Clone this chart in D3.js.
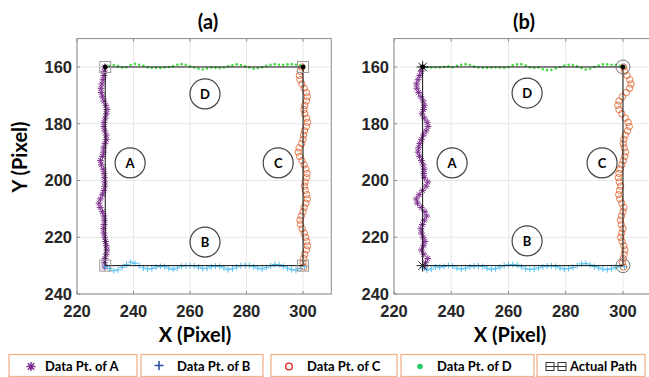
<!DOCTYPE html>
<html>
<head>
<meta charset="utf-8">
<script src="https://cdn.jsdelivr.net/npm/d3@7"></script>
<style>
  body { margin: 0; background: #fff; }
  svg { display: block; }
  .tick-lbl { font-family: "Liberation Sans", Arial, sans-serif; font-weight: bold; font-size: 16.5px; fill: #262626; }
  .big { font-family: Lato, "Open Sans", sans-serif; font-weight: bold; fill: #000; }
</style>
</head>
<body>
<div id="chart"></div>
<script>
// axis ticks
const xTicks = [220, 240, 260, 280, 300];
const yTicks = [160, 180, 200, 220, 240];

// positions along the tracks
const trackY = [160,161.5,163,164.5,166,167.5,169,170.5,172,173.5,175,176.5,178,179.5,181,182.5,184,185.5,187,188.5,190,191.5,193,194.5,196,197.5,199,200.5,202,203.5,205,206.5,208,209.5,211,212.5,214,215.5,217,218.5,220,221.5,223,224.5,226,227.5,229,230.5];
const trackX = [230,231.5,233,234.5,236,237.5,239,240.5,242,243.5,245,246.5,248,249.5,251,252.5,254,255.5,257,258.5,260,261.5,263,264.5,266,267.5,269,270.5,272,273.5,275,276.5,278,279.5,281,282.5,284,285.5,287,288.5,290,291.5,293,294.5,296,297.5,299,300.5];

// panel (a) data points
const aX_A = [229.8,229.6,229.5,229.2,228.8,228.5,228.6,229.0,229.5,230.2,230.6,230.4,230.0,229.6,229.5,229.8,230.3,230.4,229.9,229.5,229.4,229.0,228.3,228.6,229.3,229.6,229.7,229.8,229.8,229.5,229.0,228.3,227.8,228.2,229.0,229.5,229.7,229.6,229.4,229.5,229.8,230.1,230.4,230.6,230.3,229.9,229.7,229.8];
const aY_B = [230.2,231.0,231.8,231.5,230.6,229.6,228.8,229.2,230.0,230.8,231.2,231.0,230.5,230.3,230.4,230.9,231.3,230.8,230.2,230.0,230.0,230.1,230.5,231.0,230.9,230.4,230.2,230.3,230.8,231.4,231.1,230.5,230.0,229.9,230.0,230.4,230.9,231.2,230.7,230.1,229.6,229.7,230.3,230.9,231.4,231.6,231.0,230.3];
const aX_C = [299.6,299.0,298.7,298.9,299.6,300.4,301.2,301.5,301.2,300.6,300.3,300.6,301.3,301.6,301.2,300.5,300.2,300.0,299.5,298.6,298.3,298.8,299.6,300.4,301.0,301.4,301.2,300.7,300.5,300.8,301.3,301.5,301.0,300.4,300.0,299.4,298.9,299.1,299.7,300.4,300.9,301.3,301.6,301.2,300.6,300.2,300.0,300.3];
const aY_D = [160.0,159.6,159.3,159.7,160.2,160.1,159.3,158.9,159.2,159.6,160.1,160.3,160.3,160.4,160.2,160.0,159.7,159.2,159.0,159.2,159.8,160.2,160.6,160.9,160.5,160.2,160.3,160.4,160.2,159.8,159.4,159.1,159.3,159.8,160.2,160.6,160.4,160.1,159.6,159.2,159.0,159.2,159.3,159.1,159.0,159.2,159.5,160.0];

// panel (b) data points
const bX_A = [230.0,229.5,229.0,228.4,227.9,228.0,228.6,229.4,230.2,230.6,230.3,229.8,230.6,231.6,231.9,231.2,230.3,229.6,229.0,228.6,228.4,228.9,229.6,230.2,230.5,230.4,230.6,231.8,231.2,230.0,228.8,227.8,228.2,229.5,230.8,231.4,230.6,229.9,229.4,229.6,230.2,230.8,230.3,229.6,230.4,231.8,231.0,230.6];
const bY_B = [230.6,231.5,231.2,230.4,230.6,230.3,230.0,230.2,230.9,231.2,230.9,230.4,230.2,230.1,230.3,230.9,231.3,231.0,230.5,230.0,229.7,229.6,229.8,230.4,231.1,231.3,231.2,230.8,230.4,230.2,230.1,230.3,230.8,231.2,231.0,230.6,230.0,229.4,229.3,229.8,230.3,230.8,231.2,231.4,231.1,230.6,230.3,230.4];
const bX_C = [300.2,300.6,301.4,302.4,302.8,302.3,301.2,299.8,298.6,298.2,298.6,299.6,300.8,301.8,302.2,301.6,300.8,300.3,300.1,300.4,300.9,300.6,300.1,299.6,299.0,298.6,298.4,298.7,299.2,298.8,298.5,298.9,299.6,300.3,300.0,299.5,299.1,299.4,300.0,299.6,299.2,299.7,300.3,300.7,300.4,300.1,299.8,300.2];
const bY_D = [160.0,160.1,160.2,160.1,160.2,160.0,159.8,160.1,159.6,159.2,159.0,159.3,159.8,160.2,160.3,160.3,160.2,160.1,160.2,160.3,160.0,159.4,159.1,159.0,159.5,160.1,160.3,160.2,160.8,161.1,161.0,160.5,160.0,159.5,159.2,159.3,159.8,160.4,160.9,160.6,160.0,159.5,159.1,159.1,159.2,159.3,159.6,160.0];

// actual path corners
const pathX = [230, 300, 300, 230, 230];
const pathY = [160, 160, 230, 230, 160];

// zone labels
const zoneNames = ["A", "B", "C", "D"];
const aZoneX = [238.8, 265.3, 291.2, 265.3];
const aZoneY = [193.8, 221.7, 193.8, 169.5];
const bZoneX = [240.3, 266.5, 292.7, 266.5];
const bZoneY = [193.8, 221.3, 193.8, 169.2];

const legendLabels = ["Data Pt. of A", "Data Pt. of B", "Data Pt. of C", "Data Pt. of D", "Actual Path"];

const colA = "#7E2F8E", colB = "#4DBEEE", colC = "#D95319", colD = "#44dd44";

const W = 649, H = 377;
const svg = d3.select("#chart").append("svg").attr("width", W).attr("height", H);

function asterisk(r) {
  const d = r * 0.707;
  return `M${-r},0L${r},0M0,${-r}L0,${r}M${-d},${-d}L${d},${d}M${-d},${d}L${d},${-d}`;
}
function plus(r) { return `M${-r},0L${r},0M0,${-r}L0,${r}`; }

function drawPanel(opt) {
  const x = d3.scaleLinear().domain([220, 310]).range(opt.xr);
  const y = d3.scaleLinear().domain([150, 240]).range([38.6, 294]);
  const g = svg.append("g");
  const [x0, x1] = opt.xr;

  // grid
  g.selectAll(".gx").data(xTicks).enter().append("line")
    .attr("x1", d => x(d)).attr("x2", d => x(d)).attr("y1", y(150)).attr("y2", y(240))
    .attr("stroke", "#e8e8e8");
  g.selectAll(".gy").data(yTicks).enter().append("line")
    .attr("x1", x0).attr("x2", x1).attr("y1", d => y(d)).attr("y2", d => y(d))
    .attr("stroke", "#e8e8e8");

  // box
  g.append("rect").attr("x", x0).attr("y", y(150)).attr("width", x1 - x0).attr("height", y(240) - y(150))
    .attr("fill", "none").attr("stroke", "#8c8c8c").attr("stroke-width", 1);

  // tick marks
  g.selectAll(".tx").data(xTicks).enter().append("path")
    .attr("d", d => `M${x(d)},${y(240)}v-3M${x(d)},${y(150)}v3`).attr("stroke", "#8c8c8c");
  g.selectAll(".ty").data(yTicks).enter().append("path")
    .attr("d", d => `M${x0},${y(d)}h3`).attr("stroke", "#8c8c8c");

  // tick labels
  g.selectAll(".lx").data(xTicks).enter().append("text").attr("class", "tick-lbl")
    .attr("x", d => x(d)).attr("y", 317).attr("text-anchor", "middle").text(d => d);
  g.selectAll(".ly").data(yTicks).enter().append("text").attr("class", "tick-lbl")
    .attr("x", x0 - 5).attr("y", d => y(d) + 6).attr("text-anchor", "end").text(d => d);

  // zone circles
  const zones = g.selectAll(".zone").data(zoneNames).enter().append("g")
    .attr("transform", (d, i) => `translate(${x(opt.zx[i])},${y(opt.zy[i])})`);
  zones.append("circle").attr("r", 15).attr("fill", "none").attr("stroke", "#444").attr("stroke-width", 1.2);
  zones.append("text").attr("class", "big").attr("font-size", 13).attr("text-anchor", "middle")
    .attr("dy", 5).text(d => d);

  // data A
  g.selectAll(".pa").data(opt.A).enter().append("path")
    .attr("transform", (d, i) => `translate(${x(d)},${y(trackY[i])})`)
    .attr("d", asterisk(3.4)).attr("stroke", colA).attr("stroke-width", 1).attr("fill", "none");
  // data B
  g.selectAll(".pb").data(opt.B).enter().append("path")
    .attr("transform", (d, i) => `translate(${x(trackX[i])},${y(d)})`)
    .attr("d", plus(3)).attr("stroke", colB).attr("stroke-width", 1).attr("fill", "none");
  // data C
  g.selectAll(".pc").data(opt.C).enter().append("circle")
    .attr("cx", d => x(d)).attr("cy", (d, i) => y(trackY[i])).attr("r", 3.2)
    .attr("stroke", colC).attr("stroke-opacity", 0.75).attr("stroke-width", 1).attr("fill", "none");
  // data D
  g.selectAll(".pd").data(opt.D).enter().append("circle")
    .attr("cx", (d, i) => x(trackX[i])).attr("cy", d => y(d)).attr("r", 1.3)
    .attr("fill", colD);

  // actual path
  const line = d3.line().x(d => x(d[0])).y(d => y(d[1]));
  g.append("path").datum(pathX.map((v, i) => [v, pathY[i]]))
    .attr("d", line).attr("fill", "none").attr("stroke", "#111").attr("stroke-width", 1);

  const corners = pathX.slice(0, 4).map((v, i) => [v, pathY[i]]);
  if (opt.mode === "a") {
    g.selectAll(".sq").data(corners).enter().append("rect")
      .attr("x", d => x(d[0]) - 5.5).attr("y", d => y(d[1]) - 5.5).attr("width", 11).attr("height", 11)
      .attr("fill", "none").attr("stroke", "#999").attr("stroke-width", 1);
  } else {
    g.selectAll(".ci").data(corners.filter(d => d[0] === 300)).enter().append("circle")
      .attr("cx", d => x(d[0])).attr("cy", d => y(d[1])).attr("r", 7)
      .attr("fill", "none").attr("stroke", "#777").attr("stroke-width", 1);
    g.selectAll(".st").data(corners.filter(d => d[0] === 230)).enter().append("path")
      .attr("transform", d => `translate(${x(d[0])},${y(d[1])})`)
      .attr("d", asterisk(6)).attr("stroke", "#222").attr("stroke-width", 1);
  }
  g.selectAll(".bd").data(corners.filter(d => d[1] === 160)).enter().append("circle")
    .attr("cx", d => x(d[0])).attr("cy", d => y(d[1])).attr("r", 2.4).attr("fill", "#000");

  // titles
  g.append("text").attr("class", "big").attr("font-size", 20).attr("text-anchor", "middle")
    .attr("x", opt.tx).attr("y", 29).text(opt.title);
  g.append("text").attr("class", "big").attr("font-size", 20).attr("text-anchor", "middle")
    .attr("x", opt.lx).attr("y", 342).text("X (Pixel)");
}

drawPanel({ xr: [77, 331.3], A: aX_A, B: aY_B, C: aX_C, D: aY_D, zx: aZoneX, zy: aZoneY, mode: "a", title: "(a)", tx: 208, lx: 195 });
drawPanel({ xr: [394, 651.6], A: bX_A, B: bY_B, C: bX_C, D: bY_D, zx: bZoneX, zy: bZoneY, mode: "b", title: "(b)", tx: 524, lx: 510 });

svg.append("text").attr("class", "big").attr("font-size", 20).attr("text-anchor", "middle")
  .attr("transform", "translate(27,157) rotate(-90)").text("Y (Pixel)");

// legend
const legX = [9, 141, 271, 401, 537];
const legW = [128, 122, 126, 133, 108];
const lg = svg.selectAll(".leg").data(legendLabels).enter().append("g")
  .attr("transform", (d, i) => `translate(${legX[i]},354.5)`);
lg.append("rect").attr("width", (d, i) => legW[i]).attr("height", 22)
  .attr("fill", "#fff").attr("stroke", "#f0b48c").attr("stroke-width", 1.3);
lg.append("text").attr("class", "big").attr("font-size", 13)
  .attr("x", (d, i) => i === 4 ? 33 : 36).attr("y", 16).text(d => d);
lg.each(function (d, i) {
  const s = d3.select(this);
  if (i === 0) s.append("path").attr("transform", "translate(22,12)").attr("d", asterisk(4.5)).attr("stroke", colA).attr("stroke-width", 1.4);
  if (i === 1) s.append("path").attr("transform", "translate(18,11)").attr("d", plus(4.5)).attr("stroke", "#2f4f9f").attr("stroke-width", 1.6);
  if (i === 2) s.append("circle").attr("cx", 18).attr("cy", 12).attr("r", 3.3).attr("fill", "none").attr("stroke", "#e02020").attr("stroke-width", 1.3);
  if (i === 3) s.append("circle").attr("cx", 19).attr("cy", 12).attr("r", 2.8).attr("fill", "#22cc66");
  if (i === 4) {
    s.append("path").attr("d", "M11,12h16").attr("stroke", "#333").attr("stroke-width", 1);
    s.append("rect").attr("x", 9).attr("y", 8).attr("width", 8).attr("height", 8).attr("fill", "#fff").attr("stroke", "#333");
    s.append("rect").attr("x", 21).attr("y", 8).attr("width", 8).attr("height", 8).attr("fill", "#fff").attr("stroke", "#333");
    s.append("path").attr("d", "M9,12h8M21,12h8").attr("stroke", "#333");
  }
});
</script>
</body>
</html>
